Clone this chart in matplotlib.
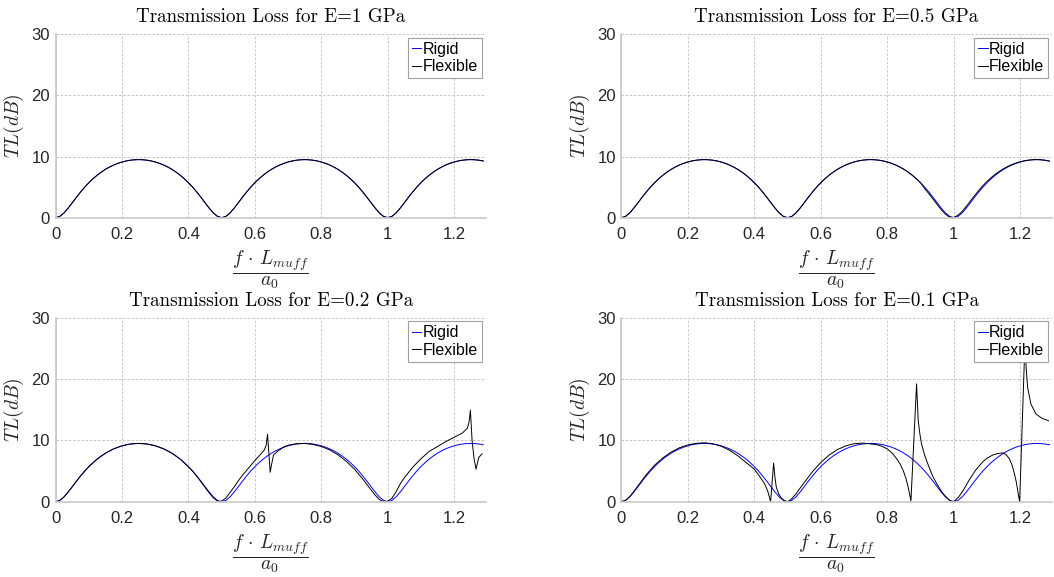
import numpy as np
import matplotlib
matplotlib.use("Agg")
import matplotlib.pyplot as plt

plt.rcParams['mathtext.fontset'] = 'cm'
plt.rcParams['font.family'] = ['Liberation Sans', 'DejaVu Sans']

# normalised frequency f*L/a0, rigid curve sampled every 0.0125
x_grid = np.linspace(0, 1.2875, 104)

rigid_tl = [
    0.00, 0.21, 0.77, 1.56, 2.44, 3.34, 4.20, 5.00, 5.72, 6.37,
    6.95, 7.46, 7.91, 8.29, 8.62, 8.89, 9.11, 9.28, 9.40, 9.47,
    9.50, 9.47, 9.40, 9.28, 9.11, 8.89, 8.62, 8.29, 7.91, 7.46,
    6.95, 6.37, 5.72, 5.00, 4.20, 3.34, 2.44, 1.56, 0.77, 0.21,
    0.00, 0.21, 0.77, 1.56, 2.44, 3.34, 4.20, 5.00, 5.72, 6.37,
    6.95, 7.46, 7.91, 8.29, 8.62, 8.89, 9.11, 9.28, 9.40, 9.47,
    9.50, 9.47, 9.40, 9.28, 9.11, 8.89, 8.62, 8.29, 7.91, 7.46,
    6.95, 6.37, 5.72, 5.00, 4.20, 3.34, 2.44, 1.56, 0.77, 0.21,
    0.00, 0.21, 0.77, 1.56, 2.44, 3.34, 4.20, 5.00, 5.72, 6.37,
    6.95, 7.46, 7.91, 8.29, 8.62, 8.89, 9.11, 9.28, 9.40, 9.47,
    9.50, 9.47, 9.40, 9.28,
]

# E = 1 GPa: flexible curve not distinguishable from rigid one
flex_e1 = list(rigid_tl)

# E = 0.5 GPa: same grid, slightly shifted around the second minimum
flex_e05 = [
    0.00, 0.21, 0.77, 1.56, 2.44, 3.34, 4.20, 5.00, 5.72, 6.37,
    6.95, 7.46, 7.91, 8.29, 8.62, 8.89, 9.11, 9.28, 9.40, 9.47,
    9.50, 9.47, 9.40, 9.28, 9.11, 8.89, 8.62, 8.29, 7.91, 7.46,
    6.95, 6.37, 5.72, 5.00, 4.20, 3.34, 2.44, 1.56, 0.77, 0.21,
    0.00, 0.21, 0.77, 1.56, 2.44, 3.34, 4.20, 5.00, 5.72, 6.37,
    6.95, 7.46, 7.91, 8.29, 8.62, 8.89, 9.11, 9.28, 9.40, 9.47,
    9.50, 9.47, 9.40, 9.28, 9.11, 8.89, 8.62, 8.29, 7.91, 7.46,
    6.95, 6.37, 5.72, 4.75, 3.93, 3.05, 2.15, 1.28, 0.56, 0.08,
    0.04, 0.40, 1.03, 1.85, 2.73, 3.62, 4.46, 5.24, 5.93, 6.56,
    7.12, 7.60, 8.03, 8.39, 8.70, 8.95, 9.16, 9.31, 9.42, 9.48,
    9.50, 9.46, 9.38, 9.25,
]

flex_e02_x = [
    0, 0.0125, 0.025, 0.0375, 0.05, 0.075, 0.1, 0.125, 0.15, 0.175,
    0.2, 0.225, 0.25, 0.275, 0.3, 0.325, 0.35, 0.375, 0.4, 0.4125,
    0.425, 0.4375, 0.45, 0.4625, 0.475, 0.4875, 0.4925, 0.5, 0.5125, 0.525,
    0.5375, 0.55, 0.5625, 0.575, 0.5875, 0.6, 0.615, 0.628, 0.634, 0.638,
    0.642, 0.646, 0.650, 0.656, 0.67, 0.688, 0.7, 0.725, 0.75, 0.775,
    0.8, 0.825, 0.85, 0.875, 0.9, 0.925, 0.95, 0.9625, 0.975, 0.9875,
    0.993, 1.0, 1.0125, 1.025, 1.0375, 1.05, 1.075, 1.1, 1.125, 1.15,
    1.175, 1.2, 1.225, 1.24, 1.245, 1.249, 1.254, 1.26, 1.266, 1.274,
    1.284,
]
flex_e02 = [
    0.00, 0.21, 0.77, 1.56, 2.44, 4.20, 5.72, 6.95, 7.91, 8.62,
    9.11, 9.40, 9.50, 9.40, 9.11, 8.62, 7.90, 6.93, 5.68, 4.98,
    4.14, 3.26, 2.33, 1.43, 0.62, 0.10, 0.00, 0.10, 0.60, 1.50,
    2.40, 3.40, 4.30, 5.10, 5.90, 6.70, 7.60, 8.40, 9.20, 11.0,
    8.00, 4.80, 6.00, 7.60, 8.30, 8.95, 9.20, 9.45, 9.50, 9.33,
    9.00, 8.45, 7.65, 6.60, 5.30, 3.70, 1.90, 1.05, 0.35, 0.02,
    0.00, 0.10, 0.55, 1.60, 2.90, 3.90, 5.60, 7.00, 8.20, 9.00,
    9.80, 10.5, 11.2, 12.0, 13.0, 14.9, 10.0, 7.00, 5.30, 7.20,
    7.80,
]

flex_e01_x = [
    0, 0.0125, 0.025, 0.0375, 0.05, 0.075, 0.1, 0.125, 0.15, 0.175,
    0.2, 0.225, 0.25, 0.275, 0.3, 0.325, 0.35, 0.375, 0.4, 0.415,
    0.43, 0.44, 0.446, 0.449, 0.458, 0.462, 0.466, 0.473, 0.48, 0.487,
    0.493, 0.498, 0.505, 0.5125, 0.525, 0.5375, 0.55, 0.575, 0.6, 0.625,
    0.65, 0.675, 0.7, 0.725, 0.745, 0.768, 0.785, 0.8, 0.815, 0.828,
    0.838, 0.848, 0.856, 0.863, 0.868, 0.871, 0.888, 0.893, 0.898, 0.903,
    0.91, 0.918, 0.928, 0.938, 0.948, 0.958, 0.968, 0.978, 0.987, 0.995,
    1.003, 1.015, 1.03, 1.046, 1.065, 1.087, 1.1, 1.117, 1.132, 1.147,
    1.157, 1.167, 1.175, 1.182, 1.188, 1.192, 1.195, 1.198, 1.214, 1.218,
    1.222, 1.232, 1.247, 1.265, 1.285,
]
flex_e01 = [
    0.00, 0.22, 0.82, 1.65, 2.58, 4.40, 5.95, 7.15, 8.10, 8.80,
    9.25, 9.52, 9.60, 9.45, 9.05, 8.40, 7.50, 6.40, 5.30, 4.20,
    3.00, 1.80, 0.60, 0.00, 6.30, 4.00, 2.40, 1.30, 0.70, 0.30,
    0.10, 0.00, 0.15, 0.50, 1.25, 2.20, 3.10, 4.90, 6.40, 7.60,
    8.50, 9.10, 9.45, 9.55, 9.45, 9.30, 9.00, 8.60, 7.90, 7.00,
    6.20, 5.05, 3.80, 2.30, 1.00, 0.10, 19.2, 13.2, 11.0, 9.40,
    8.00, 6.70, 5.30, 4.00, 3.00, 2.10, 1.30, 0.70, 0.25, 0.02,
    0.15, 0.80, 2.00, 3.50, 5.10, 6.50, 7.10, 7.60, 7.85, 7.95,
    7.70, 7.00, 6.00, 4.60, 3.20, 1.85, 0.90, 0.00, 26.0, 21.5,
    18.6, 15.9, 14.3, 13.6, 13.2,
]

titles = ["Transmission Loss for E=1 GPa", "Transmission Loss for E=0.5 GPa",
          "Transmission Loss for E=0.2 GPa", "Transmission Loss for E=0.1 GPa"]
x_ticks = [0, 0.2, 0.4, 0.6, 0.8, 1.0, 1.2]
x_tick_labels = ["0", "0.2", "0.4", "0.6", "0.8", "1", "1.2"]
y_ticks = [0, 10, 20, 30]

fig = plt.figure(figsize=(10.54, 5.77), dpi=100)

rects = [[0.0528, 0.6227, 0.408, 0.318], [0.5895, 0.6227, 0.4085, 0.318],
         [0.0528, 0.1305, 0.408, 0.319], [0.5895, 0.1305, 0.4085, 0.319]]
flex_data = [(x_grid, flex_e1), (x_grid, flex_e05),
             (flex_e02_x, flex_e02), (flex_e01_x, flex_e01)]

for rect, title, (fx, fy) in zip(rects, titles, flex_data):
    ax = fig.add_axes(rect)
    ax.plot(x_grid, rigid_tl, color='#0000ff', lw=0.7, label='Rigid')
    ax.plot(fx, fy, color='k', lw=0.7, label='Flexible')
    ax.set_xlim(0, 1.295)
    ax.set_ylim(0, 30)
    ax.set_xticks(x_ticks)
    ax.set_xticklabels(x_tick_labels)
    ax.set_yticks(y_ticks)
    ax.set_axisbelow(True)
    ax.grid(True, color='#bdbdbd', ls=(0, (3, 2)), lw=0.6)
    for s in ['top', 'right']:
        ax.spines[s].set_visible(False)
    for s in ['left', 'bottom']:
        ax.spines[s].set_color('#c8c8c8')
        ax.spines[s].set_linewidth(1.2)
    ax.tick_params(length=0, labelsize=12, labelcolor='#262626')
    ax.tick_params(axis='x', pad=7)
    ax.tick_params(axis='y', pad=4)
    ax.set_title(title, fontfamily='cmr10', fontsize=13.7, pad=8.5)
    ax.set_ylabel(r'$TL(dB)$', fontsize=14, color='#262626')
    ax.yaxis.set_label_coords(-0.068, 0.5)
    ax.set_xlabel(r'$\dfrac{f\,\cdot\,L_{muff}}{a_0}$', fontsize=14, color='#262626')
    ax.xaxis.set_label_coords(0.5, -0.17)
    leg = ax.legend(loc='upper right', fontsize=11.5, handlelength=0.6,
                    handletextpad=0.1, borderpad=0.25, borderaxespad=0.22,
                    labelspacing=0.15, fancybox=False, framealpha=1,
                    edgecolor='#a0a0a0')
    leg.get_frame().set_linewidth(0.8)

fig.savefig("out.png", dpi=100)
